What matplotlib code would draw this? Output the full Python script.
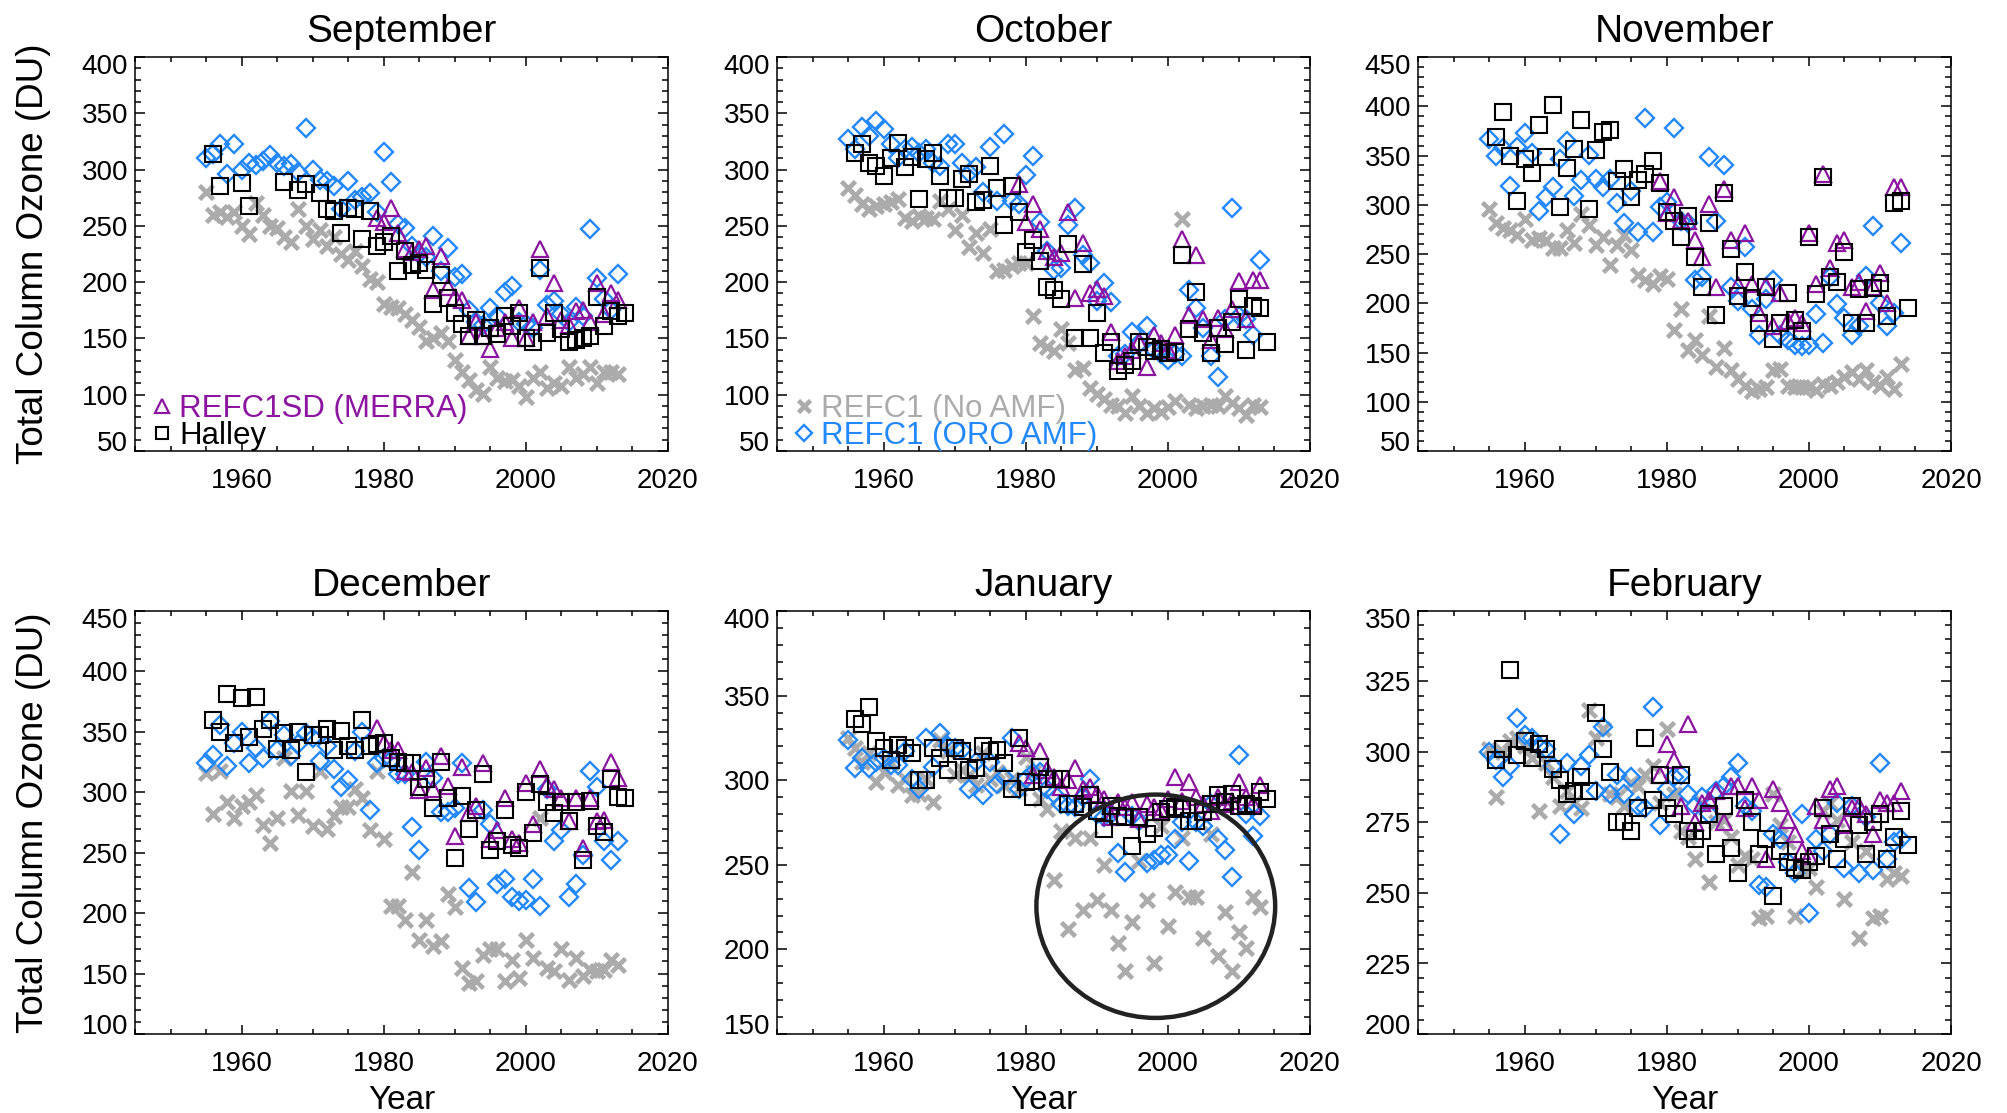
import numpy as np
import matplotlib
matplotlib.use('Agg')
import matplotlib.pyplot as plt
from matplotlib.patches import Ellipse
from matplotlib.ticker import MultipleLocator, FixedLocator
import matplotlib.transforms as mtransforms

plt.rcParams['font.family'] = ['Liberation Sans', 'DejaVu Sans']

# ---------------- data (Dobson Units) ----------------
MODEL_START = 1955    # REFC1 runs
HALLEY_START = 1956   # Halley observations
MERRA_START = 1979    # REFC1SD (MERRA)
nan = np.nan

titles = ['September', 'October', 'November', 'December', 'January', 'February']
series_labels = ['REFC1 (No AMF)', 'REFC1 (ORO AMF)', 'REFC1SD (MERRA)', 'Halley']

# September
sep_noamf = [280, 260, 262, 258, 262, 250, 243, 270, 260, 250,
             248, 240, 236, 265, 250, 238, 246, 232, 240, 225,
             220, 228, 214, 203, 200, 181, 178, 177, 172, 166,
             160, 148, 150, 155, 148, 131, 120, 113, 104, 101,
             125, 115, 112, 113, 108, 98, 115, 120, 106, 110,
             108, 125, 115, 118, 125, 110, 120, 120, 118]
sep_oro = [310, 314, 323, 296, 323, 300, 306, 304, 308, 313,
           306, 303, 305, 298, 337, 300, 291, 290, 285, 265,
           290, 273, 276, 279, 262, 316, 289, 252, 248, 232,
           225, 222, 241, 210, 230, 205, 207, 175, 165, 162,
           177, 170, 191, 197, 165, 163, 159, 211, 180, 183,
           172, 165, 178, 170, 247, 204, 185, 175, 207]
sep_merra = [257, 253, 266, 244, 229, 227, 229, 232, 193, 223,
             196, 187, 184, 152, 165, 152, 141, 159, 165, 150,
             177, 150, 165, 229, 170, 199, 166, 162, 174, 175,
             165, 199, 172, 190, 184]
sep_halley = [314, 285, nan, nan, 288, 268, nan, nan, nan, nan,
              289, nan, 282, 287, nan, 279, 265, 263, 244, 266,
              265, 238, 263, 232, 236, 241, 210, 228, 215, 217,
              211, 181, 206, 186, 173, 163, 152, 166, 152, 159,
              154, 170, 161, 173, 150, 147, 213, 155, 173, 158,
              147, 149, 150, 152, 187, 161, 174, 170, 173]

# October
oct_noamf = [284, 277, 269, 265, 268, 269, 271, 274, 257, 254,
             259, 257, 256, 272, 265, 246, 260, 231, 244, 226,
             247, 210, 211, 214, 217, 217, 170, 146, 142, 139,
             158, 146, 122, 124, 106, 101, 96, 91, 90, 84,
             99, 90, 84, 88, 85, 89, 94, 256, 91, 88,
             90, 91, 90, 99, 93, 88, 82, 91, 89]
oct_oro = [327, 318, 338, 330, 343, 336, 323, 310, 318, 320,
           315, 318, 306, 303, 323, 323, 306, 297, 302, 280,
           320, 272, 332, 272, 269, 295, 312, 253, 228, 211,
           213, 251, 266, 224, 217, 183, 199, 182, 134, 136,
           156, 145, 161, 140, 136, 131, 136, 134, 193, 177,
           159, 134, 116, 167, 266, 170, 167, 153, 220]
oct_merra = [287, 253, 269, 247, 228, 222, 226, 262, 186, 235,
             190, 194, 188, 156, 130, 134, 140, 147, 125, 153,
             146, 140, 153, 238, 171, 224, 167, 149, 168, 158,
             176, 201, 167, 202, 202]
oct_halley = [315, 323, 306, 303, 294, 310, 324, 302, 311, 274,
              309, 315, 294, 275, 275, 292, 296, 271, 273, 303,
              284, 251, 285, 262, 227, 237, 219, 196, 193, 185,
              234, 150, 216, 150, 173, 137, 147, 121, 126, 130,
              147, 142, 139, 141, 137, 138, 224, 158, 191, 155,
              137, 159, 145, 165, 185, 140, 179, 177, 147]

# November
nov_noamf = [296, 281, 276, 274, 269, 286, 264, 266, 264, 256,
             256, 274, 261, 291, 279, 259, 267, 239, 259, 269,
             254, 229, 224, 220, 228, 225, 173, 194, 153, 163,
             147, 187, 135, 155, 132, 123, 116, 111, 113, 115,
             132, 133, 116, 115, 115, 115, 112, 118, 116, 120,
             125, 130, 123, 132, 120, 116, 125, 113, 138]
nov_oro = [367, 350, 358, 319, 359, 373, 353, 294, 308, 318,
           346, 365, 309, 325, 351, 326, 318, 326, 302, 281,
           314, 272, 388, 272, 298, 303, 378, 284, 281, 224,
           227, 348, 283, 340, 217, 202, 257, 194, 168, 204,
           224, 168, 163, 158, 157, 158, 189, 160, 227, 199,
           185, 168, 177, 228, 278, 200, 177, 190, 261]
nov_merra = [324, 292, 308, 285, 284, 264, 247, 301, 217, 316,
             264, 219, 271, 220, 190, 218, 177, 210, 182, 185,
             180, 271, 220, 331, 236, 261, 264, 217, 222, 192,
             217, 231, 200, 318, 318]
nov_halley = [369, 394, 349, 304, 346, 332, 381, 348, 401, 298,
              337, 357, 386, 296, 356, 374, 376, 324, 336, 308,
              325, 331, 344, 322, 293, 284, 267, 289, 247, 216,
              281, 188, 312, 255, 207, 232, 205, 180, 217, 164,
              180, 210, 183, 172, 267, 209, 328, 227, 222, 252,
              180, 214, 180, 215, 221, 187, 302, 304, 195]

# December
dec_noamf = [316, 282, 318, 292, 279, 289, 292, 298, 273, 258,
             279, 328, 301, 281, 301, 272, 318, 270, 280, 288,
             288, 303, 295, 269, 318, 261, 206, 206, 194, 234,
             178, 194, 173, 177, 216, 205, 155, 142, 144, 165,
             170, 170, 144, 161, 146, 178, 163, 279, 155, 152,
             170, 145, 163, 148, 153, 152, 153, 161, 157]
dec_oro = [324, 331, 356, 322, 341, 350, 324, 337, 328, 359,
           335, 347, 330, 340, 349, 345, 326, 338, 319, 304,
           310, 334, 350, 285, 324, 328, 327, 315, 315, 271,
           252, 325, 312, 284, 284, 287, 324, 221, 209, 285,
           274, 224, 228, 213, 210, 211, 228, 206, 303, 260,
           269, 213, 224, 248, 318, 304, 260, 244, 260]
dec_merra = [353, 341, 335, 335, 318, 317, 302, 320, 303, 330,
             305, 264, 321, 283, 289, 324, 261, 269, 295, 261,
             258, 308, 274, 319, 306, 303, 295, 276, 295, 254,
             295, 276, 277, 325, 312]
dec_halley = [360, 350, 381, 341, 378, 346, 379, 352, 360, 336,
              349, 335, 350, 317, 347, 347, 352, 335, 351, 338,
              335, 360, 338, 340, 341, 328, 325, 324, 324, 304,
              311, 287, 325, 295, 246, 297, 270, 285, 315, 252,
              260, 285, 256, 254, 300, 266, 307, 292, 283, 292,
              276, 292, 244, 293, 272, 267, 311, 296, 295]

# January
jan_noamf = [325, 319, 311, 316, 299, 305, 310, 297, 301, 291,
             292, 301, 287, 324, 317, 303, 306, 303, 297, 316,
             301, 305, 297, 301, 295, 314, 305, 289, 283, 241,
             270, 212, 266, 223, 266, 229, 250, 223, 204, 187,
             216, 252, 229, 192, 273, 214, 234, 266, 231, 231,
             207, 268, 196, 222, 187, 210, 201, 231, 225]
jan_oro = [324, 307, 313, 307, 311, 313, 309, 309, 317, 301,
           295, 325, 308, 328, 320, 319, 318, 295, 311, 291,
           311, 298, 302, 325, 295, 301, 304, 305, 295, 292,
           286, 285, 284, 290, 301, 280, 278, 280, 257, 246,
           279, 276, 251, 253, 256, 256, 265, 275, 252, 275,
           273, 286, 265, 259, 243, 315, 280, 267, 279]
jan_merra = [322, 319, 303, 317, 306, 302, 296, 300, 307, 295,
             296, 292, 289, 278, 287, 284, 287, 277, 286, 284,
             282, 289, 302, 288, 299, 290, 286, 282, 290, 286,
             288, 299, 290, 286, 297]
jan_halley = [336, 333, 343, 323, 319, 312, 321, 319, 316, 300,
              300, 319, 313, 306, 319, 317, 306, 307, 320, 317,
              318, 310, 295, 325, 299, 290, 308, 301, 301, 301,
              286, 286, 284, 291, 282, 271, 285, 279, 278, 261,
              278, 268, 272, 281, 283, 284, 283, 276, 276, 281,
              286, 291, 287, 292, 285, 286, 285, 293, 289]

# February
feb_noamf = [301, 284, 300, 304, 305, 302, 298, 279, 296, 291,
             281, 286, 282, 280, 315, 305, 308, 285, 284, 281,
             289, 288, 292, 295, 282, 308, 285, 272, 270, 262,
             282, 254, 275, 276, 270, 260, 263, 262, 241, 242,
             285, 274, 268, 242, 258, 259, 252, 279, 282, 276,
             248, 268, 234, 265, 241, 242, 255, 257, 256]
feb_oro = [300, 297, 291, 295, 312, 306, 305, 302, 301, 295,
           271, 296, 278, 295, 299, 286, 309, 285, 292, 285,
           291, 281, 280, 316, 274, 287, 291, 292, 285, 281,
           284, 278, 286, 288, 291, 296, 281, 279, 253, 252,
           271, 269, 261, 257, 278, 243, 269, 265, 271, 282,
           259, 281, 257, 277, 258, 296, 262, 268, 269]
feb_merra = [292, 303, 297, 281, 310, 275, 282, 283, 286, 275,
             288, 288, 280, 288, 283, 262, 287, 282, 276, 271,
             265, 263, 281, 276, 287, 288, 274, 280, 281, 278,
             271, 283, 282, 282, 286]
feb_halley = [297, 301, 329, 299, 304, 298, 303, 301, 294, 290,
              285, 286, 291, 286, 314, 301, 293, 275, 275, 272,
              280, 305, 283, 292, 280, 278, 292, 272, 269, 272,
              278, 264, 281, 266, 257, 283, 275, 264, 269, 249,
              265, 261, 259, 258, 261, 263, 280, 271, 262, 269,
              281, 274, 264, 275, 278, 262, 270, 279, 267]

noamf = [sep_noamf, oct_noamf, nov_noamf, dec_noamf, jan_noamf, feb_noamf]
oro = [sep_oro, oct_oro, nov_oro, dec_oro, jan_oro, feb_oro]
merra = [sep_merra, oct_merra, nov_merra, dec_merra, jan_merra, feb_merra]
halley = [sep_halley, oct_halley, nov_halley, dec_halley, jan_halley, feb_halley]

# axis ranges and tick steps per panel
y_ranges = [(50, 400), (50, 400), (50, 450), (100, 450), (150, 400), (200, 350)]
y_major = [50, 50, 50, 50, 50, 25]
y_minor = [10, 10, 10, 10, 10, 5]
x_range = (1945, 2020)
x_labels = [1960, 1980, 2000, 2020]

# annotation circle in the January panel (year, DU)
circle_center = (1998.3, 225.5)
circle_size = (33.6, 132.0)

# ---------------- styling ----------------
GRAY = '#ababab'
BLUE = '#2288ff'
PURPLE = '#8c14a0'
BLACK = '#000000'

fig = plt.figure(figsize=(20.07, 11.13), dpi=100)
W, H = 2007.0, 1113.0
lefts = [135, 777, 1418]
width = 533
rows = [(57, 451), (611, 1034)]

axes = []
for i in range(6):
    r, c = divmod(i, 3)
    top, bot = rows[r]
    ax = fig.add_axes([lefts[c] / W, 1 - bot / H, width / W, (bot - top) / H])
    axes.append(ax)

handles = []
for i, ax in enumerate(axes):
    yrs_m = MODEL_START + np.arange(len(noamf[i]))
    yrs_o = MODEL_START + np.arange(len(oro[i]))
    yrs_s = MERRA_START + np.arange(len(merra[i]))
    yrs_h = HALLEY_START + np.arange(len(halley[i]))
    h1, = ax.plot(yrs_m, noamf[i], ls='none', marker='x', ms=10, mew=3.3,
                  color=GRAY, label=series_labels[0])
    h2, = ax.plot(yrs_o, oro[i], ls='none', marker='D', ms=9, mew=1.7,
                  mfc='none', mec=BLUE, label=series_labels[1])
    h3, = ax.plot(yrs_s, merra[i], ls='none', marker='^', ms=12, mew=1.6,
                  mfc='none', mec=PURPLE, label=series_labels[2])
    h4, = ax.plot(yrs_h, halley[i], ls='none', marker='s', ms=11, mew=1.5,
                  mfc='none', mec=BLACK, label=series_labels[3])
    handles = [h1, h2, h3, h4]

    ax.set_xlim(*x_range)
    ax.set_ylim(*y_ranges[i])
    ax.xaxis.set_major_locator(FixedLocator(x_labels))
    ax.xaxis.set_minor_locator(MultipleLocator(5))
    ax.yaxis.set_major_locator(MultipleLocator(y_major[i]))
    ax.yaxis.set_minor_locator(MultipleLocator(y_minor[i]))
    ax.tick_params(which='both', direction='in', top=True, right=True,
                   width=1.1, labelsize=20)
    ax.tick_params(axis='y', which='major', length=7.5, pad=5)
    ax.tick_params(axis='y', which='minor', length=4.5)
    ax.tick_params(axis='x', which='major', length=6.5, pad=12)
    ax.tick_params(axis='x', which='minor', length=3.8)
    for sp in ax.spines.values():
        sp.set_linewidth(1.1)
    ax.set_title(titles[i], fontsize=28, pad=11)

    # nudge the end labels of the y axis inwards
    ticks = ax.get_yticks()
    lo, hi = y_ranges[i]
    for lab, t in zip(ax.get_yticklabels(), ticks):
        if abs(t - hi) < 1e-6:
            lab.set_transform(lab.get_transform() +
                              mtransforms.ScaledTranslation(0, -7 / 100, fig.dpi_scale_trans))
        elif abs(t - lo) < 1e-6:
            lab.set_transform(lab.get_transform() +
                              mtransforms.ScaledTranslation(0, 10 / 100, fig.dpi_scale_trans))

    if i % 3 == 0:
        ax.set_ylabel('Total Column Ozone (DU)', fontsize=26.5, labelpad=22)
    if i >= 3:
        ax.set_xlabel('Year', fontsize=24, labelpad=6)

# legends
leg_kw = dict(loc='lower left', bbox_to_anchor=(0.033, 0.0), frameon=False,
              fontsize=22.5, handlelength=0.6, handletextpad=0.25,
              labelspacing=-0.1, borderaxespad=0.0, borderpad=0.0,
              markerscale=0.85)
h1, h2, h3, h4 = handles
axes[0].legend([h3, h4], [series_labels[2], series_labels[3]],
               labelcolor=[PURPLE, BLACK], **leg_kw)
axes[1].legend([h1, h2], [series_labels[0], series_labels[1]],
               labelcolor=[GRAY, BLUE], **leg_kw)

# circle highlighting the January model spread
axes[4].add_patch(Ellipse(circle_center, circle_size[0], circle_size[1],
                          fill=False, ec='#222222', lw=3.2, zorder=5))

fig.savefig('out.png', dpi=100)
